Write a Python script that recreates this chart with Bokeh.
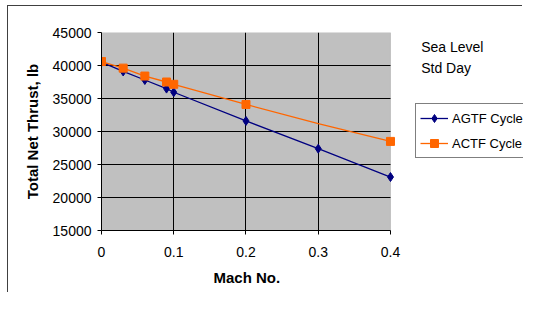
from bokeh.plotting import figure
from bokeh.models import Legend, LegendItem, Label, FixedTicker, Range1d, BoxAnnotation, Title
from bokeh.embed import file_html
from bokeh.resources import INLINE

# Data
agtf_mach = [0.0, 0.03, 0.06, 0.09, 0.1, 0.2, 0.3, 0.4]
agtf_thrust = [40500, 39100, 37800, 36500, 35950, 31600, 27400, 23100]

actf_line_mach = [0.0, 0.03, 0.06, 0.09, 0.1, 0.2, 0.3, 0.4]
actf_line_thrust = [40600, 39600, 38400, 37500, 37150, 34100, 31200, 28500]
actf_mark_mach = [0.0, 0.03, 0.06, 0.09, 0.1, 0.2, 0.4]
actf_mark_thrust = [40600, 39600, 38400, 37500, 37150, 34100, 28500]

x_ticks = [0.0, 0.1, 0.2, 0.3, 0.4]
x_tick_labels = {0.0: "0", 0.1: "0.1", 0.2: "0.2", 0.3: "0.3", 0.4: "0.4"}
y_ticks = [15000, 20000, 25000, 30000, 35000, 40000, 45000]
notes = ["Sea Level", "Std Day"]

X_MIN, X_MAX = 0.0, 0.4
Y_MIN, Y_MAX = 15000, 45000

NAVY = "#000080"
ORANGE = "#FF6600"
FONT = "Liberation Sans"

W, H = 515, 287
p = figure(width=W, height=H, output_backend="svg", toolbar_location=None,
           x_range=Range1d(X_MIN, 0.5841), y_range=Range1d(Y_MIN, Y_MAX),
           min_border_left=93, min_border_right=0, min_border_top=26,
           min_border_bottom=63)
p.styles = {"margin-left": "7px", "margin-top": "5px",
            "border-left": "1px solid #404040", "border-top": "1px solid #404040"}
p.background_fill_color = "white"
p.border_fill_color = "white"
p.outline_line_color = None

# plot area (gray) limited to the axis extent
p.add_layout(BoxAnnotation(left=X_MIN, right=X_MAX, bottom=Y_MIN, top=Y_MAX,
                           fill_color="#C0C0C0", fill_alpha=1,
                           line_color="#808080", line_width=1, level="image"))

for ax in (p.xaxis[0], p.yaxis[0]):
    ax.axis_line_color = "black"
    ax.major_tick_line_color = "black"
    ax.major_tick_out = 4
    ax.major_tick_in = 0
    ax.minor_tick_line_color = None
    ax.major_label_text_font = FONT
    ax.major_label_text_font_size = "14px"
    ax.major_label_text_color = "black"
    ax.axis_label_text_font = FONT
    ax.axis_label_text_font_size = "15px"
    ax.axis_label_text_font_style = "bold"
    ax.axis_label_text_color = "black"

p.xaxis.ticker = FixedTicker(ticks=x_ticks)
p.xaxis.major_label_overrides = x_tick_labels
p.xaxis.bounds = (X_MIN, X_MAX)
p.xaxis.major_label_standoff = 12

# x-axis title, centred under the plot area (not the whole frame)
p.add_layout(Title(text="Mach No.", align="left", offset=112, standoff=15,
                   text_font=FONT, text_font_size="15px", text_font_style="bold",
                   text_color="black"), "below")

p.yaxis.ticker = FixedTicker(ticks=y_ticks)
p.yaxis.axis_label = "Total Net Thrust, lb"
p.yaxis.major_label_standoff = 6
p.yaxis.axis_label_standoff = 9

p.xgrid.ticker = FixedTicker(ticks=x_ticks[1:-1])
p.ygrid.ticker = FixedTicker(ticks=y_ticks[1:-1])
for g in (p.xgrid[0], p.ygrid[0]):
    g.grid_line_color = "black"
    g.grid_line_width = 1
p.ygrid[0].cross_bounds = (X_MIN, X_MAX)

r1l = p.line(agtf_mach, agtf_thrust, line_color=NAVY, line_width=1.3)
r1m = p.scatter(agtf_mach, agtf_thrust, marker="diamond", size=9,
                fill_color=NAVY, line_color=NAVY)
r2l = p.line(actf_line_mach, actf_line_thrust, line_color=ORANGE, line_width=1.3)
r2m = p.scatter(actf_mark_mach, actf_mark_thrust, marker="square", size=8,
                fill_color=ORANGE, line_color=ORANGE)

legend = Legend(items=[LegendItem(label="AGTF Cycle", renderers=[r1l, r1m]),
                       LegendItem(label="ACTF Cycle", renderers=[r2l, r2m])],
                location=(314, 72))
legend.label_text_font = FONT
legend.label_text_font_size = "13px"
legend.label_text_color = "black"
legend.border_line_color = "black"
legend.border_line_width = 1
legend.background_fill_color = "white"
legend.background_fill_alpha = 1
legend.padding = 4
legend.margin = 0
legend.spacing = 5
legend.label_height = 20
legend.glyph_height = 20
legend.glyph_width = 28
legend.label_standoff = 4
p.add_layout(legend, "center")

for txt, yv in zip(notes, (42770, 39610)):
    p.add_layout(Label(x=0.4425, y=yv, text=txt, text_font=FONT,
                       text_font_size="14px", text_color="black",
                       text_baseline="alphabetic"))

open("out.html", "w").write(file_html(p, INLINE))
